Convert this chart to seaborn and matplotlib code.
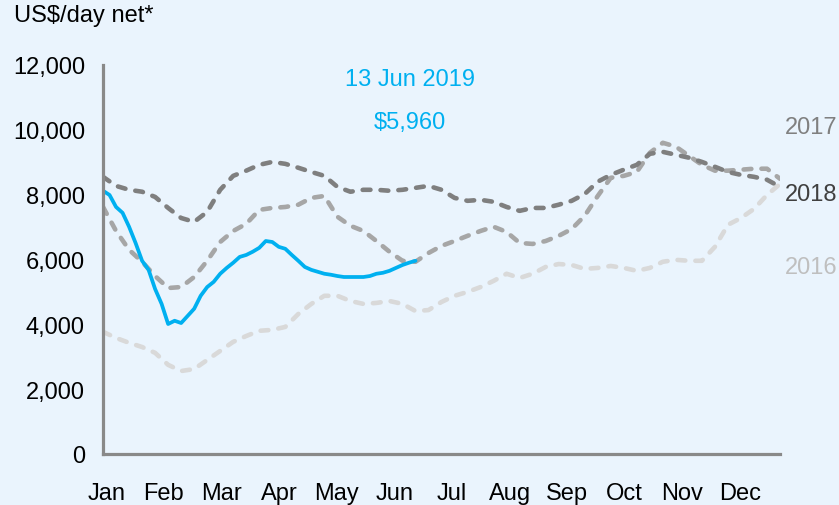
import numpy as np
import pandas as pd
import matplotlib
matplotlib.use("Agg")
import matplotlib.pyplot as plt
import seaborn as sns

# weekly readings (US$/day), week 0 = start of January
weeks = np.arange(0, 53)

rates_2016 = [3770, 3580, 3430, 3300, 3120, 2750, 2560, 2620, 2900, 3180,
              3460, 3640, 3800, 3830, 3920, 4320, 4630, 4880, 4880, 4720,
              4630, 4660, 4720, 4630, 4410, 4440, 4690, 4880, 5000, 5150,
              5340, 5560, 5430, 5560, 5770, 5860, 5830, 5710, 5740, 5800,
              5740, 5650, 5740, 5930, 5990, 5960, 5960, 6390, 7070, 7280,
              7560, 7990, 8330]

rates_2017 = [7620, 6880, 6300, 5930, 5490, 5120, 5150, 5460, 5960, 6540,
              6880, 7100, 7530, 7590, 7620, 7690, 7900, 7960, 7320, 7040,
              6880, 6570, 6240, 5960, 5930, 6200, 6420, 6570, 6730, 6880,
              7010, 6850, 6510, 6480, 6570, 6730, 6940, 7350, 7960, 8520,
              8580, 8700, 9290, 9600, 9480, 9200, 8920, 8740, 8740, 8770,
              8800, 8800, 8490]

rates_2018 = [8550, 8270, 8150, 8090, 7930, 7590, 7280, 7160, 7470, 8150,
              8580, 8740, 8920, 9010, 8950, 8830, 8700, 8580, 8240, 8090,
              8150, 8150, 8120, 8150, 8210, 8270, 8150, 7900, 7810, 7840,
              7780, 7620, 7500, 7590, 7590, 7690, 7810, 8020, 8400, 8610,
              8770, 8920, 9260, 9320, 9230, 9140, 9010, 8860, 8700, 8610,
              8550, 8460, 8240]

# 2019 read at half-week steps up to 13 Jun
weeks_2019 = np.arange(0, 24.5, 0.5)
rates_2019 = [8120, 7990, 7620, 7440, 7010, 6510, 5960, 5680, 5090, 4630,
              4010, 4110, 4040, 4260, 4480, 4880, 5150, 5310, 5560, 5740,
              5900, 6080, 6140, 6240, 6360, 6570, 6540, 6390, 6330, 6140,
              5960, 5770, 5680, 5620, 5560, 5530, 5490, 5460, 5460, 5460,
              5460, 5490, 5560, 5590, 5650, 5740, 5830, 5900, 5960]

months = ["Jan", "Feb", "Mar", "Apr", "May", "Jun",
          "Jul", "Aug", "Sep", "Oct", "Nov", "Dec"]
yticks = [0, 2000, 4000, 6000, 8000, 10000, 12000]

bg = "#EAF4FD"
sns.set_style("white")
plt.rcParams["font.family"] = ["Liberation Sans", "DejaVu Sans"]
plt.rcParams["font.size"] = 17
plt.rcParams["text.color"] = "black"
plt.rcParams["xtick.color"] = "black"
plt.rcParams["ytick.color"] = "black"

fig = plt.figure(figsize=(8.39, 5.06), dpi=100, facecolor=bg)
ax = fig.add_axes([0.1228, 0.1008, 0.8069, 0.7688], facecolor=bg)

# older years as dashed grey lines
series = [
    (rates_2016, "#D9D9D9"),
    (rates_2017, "#A6A6A6"),
    (rates_2018, "#7F7F7F"),
]
for vals, col in series:
    sns.lineplot(x=weeks, y=vals, color=col, lw=3.3, ax=ax)
    line = ax.lines[-1]
    line.set_dashes([1.7, 2.2])
    line.set_dash_capstyle("round")
    line.set_solid_capstyle("round")

sns.lineplot(x=weeks_2019, y=rates_2019, color="#00B0F0", lw=2.7, ax=ax)
ax.lines[-1].set_solid_joinstyle("round")

ax.set_xlim(0, 52)
ax.set_ylim(0, 12000)
ax.set_xticks([0.25 + 4.425 * i for i in range(12)])
ax.set_xticklabels(months)
ax.set_yticks(yticks)
ax.set_yticklabels([f"{v:,}" for v in yticks])
ax.tick_params(axis="y", length=0, pad=13, labelsize=17, labelcolor="black")
ax.tick_params(axis="x", length=0, pad=20, labelsize=17, labelcolor="black")
ax.set_xlabel("")
ax.set_ylabel("")

for side in ["top", "right"]:
    ax.spines[side].set_visible(False)
for side in ["left", "bottom"]:
    ax.spines[side].set_color("#898989")
    ax.spines[side].set_linewidth(2.3)

# annotations
fig.text(14 / 839, 1 - 16 / 506, "US$/day net*", fontsize=17, va="center", ha="left",
         color="black")
fig.text(410 / 839, 1 - 80 / 506, "13 Jun 2019", fontsize=17, color="#00B0F0",
         ha="center", va="center")
fig.text(410 / 839, 1 - 123 / 506, "$5,960", fontsize=17, color="#00B0F0",
         ha="center", va="center")
fig.text(785 / 839, 1 - 128 / 506, "2017", fontsize=17, color="#808080", va="center")
fig.text(785 / 839, 1 - 195 / 506, "2018", fontsize=17, color="#404040", va="center")
fig.text(785 / 839, 1 - 268 / 506, "2016", fontsize=17, color="#BFBFBF", va="center")

fig.savefig("out.png", dpi=100, facecolor=bg)
